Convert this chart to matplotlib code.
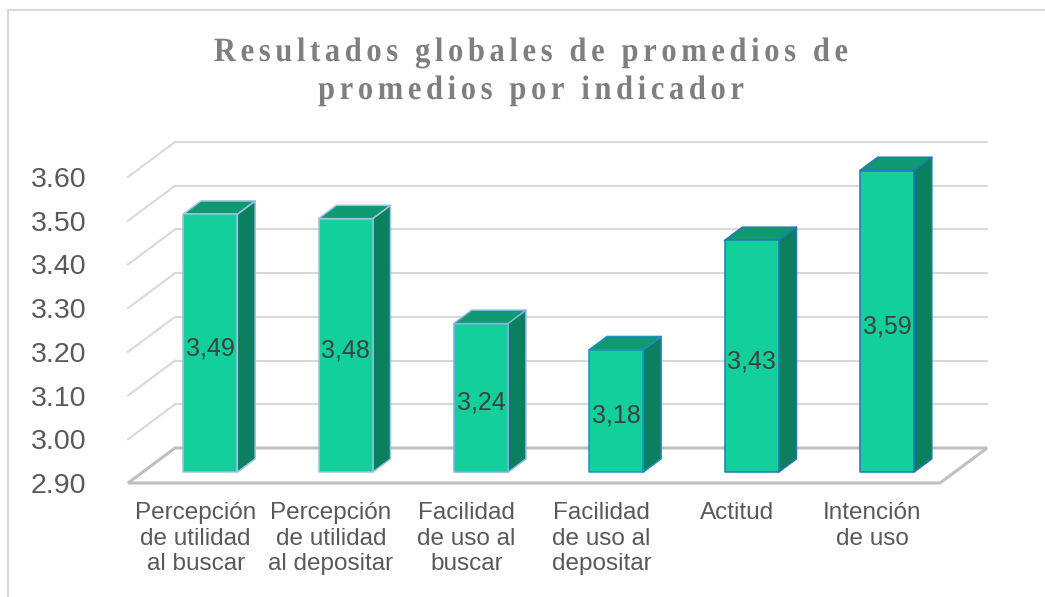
import matplotlib
matplotlib.use("Agg")
import matplotlib.pyplot as plt
from matplotlib.patches import Polygon, PathPatch
from matplotlib.lines import Line2D
from matplotlib.textpath import TextPath
from matplotlib.transforms import Affine2D, offset_copy
from matplotlib.font_manager import FontProperties, findfont, get_font

plt.rcParams['font.family'] = ['Liberation Sans', 'DejaVu Sans']

categories = [
    "Percepción\nde utilidad\nal buscar",
    "Percepción\nde utilidad\nal depositar",
    "Facilidad\nde uso al\nbuscar",
    "Facilidad\nde uso al\ndepositar",
    "Actitud",
    "Intención\nde uso",
]
values = [3.49, 3.48, 3.24, 3.18, 3.43, 3.59]
y_ticks = [2.90, 3.00, 3.10, 3.20, 3.30, 3.40, 3.50, 3.60]
title_lines = ["Resultados globales de promedios de", "promedios por indicador"]

W, H = 1045, 597
FRONT = '#13cf9b'
TOP = '#0f9970'
SIDE = '#0b7f5e'
EDGES = ['#9dc3e6', '#9dc3e6', '#7cb3e0', '#1f8fc8', '#2079b8', '#2079b8']
GRID = '#d9d9d9'
FLOOR = '#bfbfbf'

fig = plt.figure(figsize=(W / 100, H / 100), dpi=100)
fig.patch.set_facecolor('white')

# chart frame (top and left edges visible)
fig.add_artist(Line2D([8 / W, 1], [1 - 9.5 / H, 1 - 9.5 / H], color='#d9d9d9', lw=1.5,
                      transform=fig.transFigure))
fig.add_artist(Line2D([8 / W, 8 / W], [0, 1 - 9.5 / H], color='#d9d9d9', lw=1.5,
                      transform=fig.transFigure))

ymin, ymax = y_ticks[0], y_ticks[-1]
ax = fig.add_axes([128 / W, (H - 483) / H, 812 / W, 306 / H])
ax.set_xlim(0, len(values))
ax.set_ylim(ymin, ymax)
ax.patch.set_visible(False)
for s in ax.spines.values():
    s.set_visible(False)

# oblique depth: one unit of depth in data units
DX = 47 / (812 / len(values))
DY = 35 / (306 / (ymax - ymin))


def pt(c, v, d):
    return (c + d * DX, v + d * DY)


# back wall and side wall gridlines
for v in y_ticks[1:]:
    x0, y0 = pt(0, v, 1)
    x1, y1 = pt(len(values), v, 1)
    ax.plot([x0, x1], [y0, y1], color=GRID, lw=1.5, clip_on=False, zorder=1)
    ax.plot([0, x0], [v, y0], color=GRID, lw=1.5, clip_on=False, zorder=1)

# floor
floor = [pt(0, ymin, 0), pt(len(values), ymin, 0), pt(len(values), ymin, 1), pt(0, ymin, 1)]
ax.add_patch(Polygon(floor, closed=True, fill=False, ec=FLOOR, lw=2.2,
                     clip_on=False, zorder=2))

# bars
d0, d1 = 0.31, 0.69
half = 0.2
label_tr = offset_copy(ax.transData, fig=fig, x=0, y=-5, units='dots')
for i, v in enumerate(values):
    xl, xr = i + 0.5 - half, i + 0.5 + half
    ec = EDGES[i]
    side = [pt(xr, ymin, d0), pt(xr, ymin, d1), pt(xr, v, d1), pt(xr, v, d0)]
    top = [pt(xl, v, d0), pt(xr, v, d0), pt(xr, v, d1), pt(xl, v, d1)]
    front = [pt(xl, ymin, d0), pt(xr, ymin, d0), pt(xr, v, d0), pt(xl, v, d0)]
    for poly, fc in ((side, SIDE), (top, TOP), (front, FRONT)):
        ax.add_patch(Polygon(poly, closed=True, fc=fc, ec=ec, lw=1.1,
                             joinstyle='round', clip_on=False, zorder=3))
    cx, cy = pt(i + 0.5, (ymin + v) / 2, d0)
    ax.text(cx, cy, f"{v:.2f}".replace('.', ','), ha='center', va='center',
            fontsize=18, color='#404040', zorder=4, transform=label_tr)

ax.set_yticks(y_ticks)
ax.set_yticklabels([f"{t:.2f}" for t in y_ticks])
ax.set_xticks([i + 0.5 for i in range(len(values))])
ax.set_xticklabels(categories)
ax.tick_params(axis='y', length=0, pad=30, labelsize=20.5, labelcolor='#595959')
ax.tick_params(axis='x', length=0, pad=14, labelsize=17.5, labelcolor='#595959')


def tracked_title(text, cx, baseline, size=34, sx=0.9, track=4.6, color='#7f7f7f'):
    prop = FontProperties(family='Liberation Serif', weight='bold')
    font = get_font(findfont(prop))
    font.set_size(size, 72)
    adv = []
    for ch in text:
        g = font.load_char(ord(ch))
        adv.append(g.linearHoriAdvance / 65536 * sx)
    total = sum(adv) + track * (len(text) - 1)
    x = cx - total / 2
    for ch, a in zip(text, adv):
        if ch != ' ':
            path = TextPath((0, 0), ch, size=size, prop=prop)
            tr = Affine2D().scale(sx, 1).translate(x, H - baseline)
            fig.add_artist(PathPatch(path, transform=tr, fc=color, ec='none'))
        x += a + track


tracked_title(title_lines[0], 531, 61)
tracked_title(title_lines[1], 531, 99)

fig.savefig('out.png', dpi=100)
